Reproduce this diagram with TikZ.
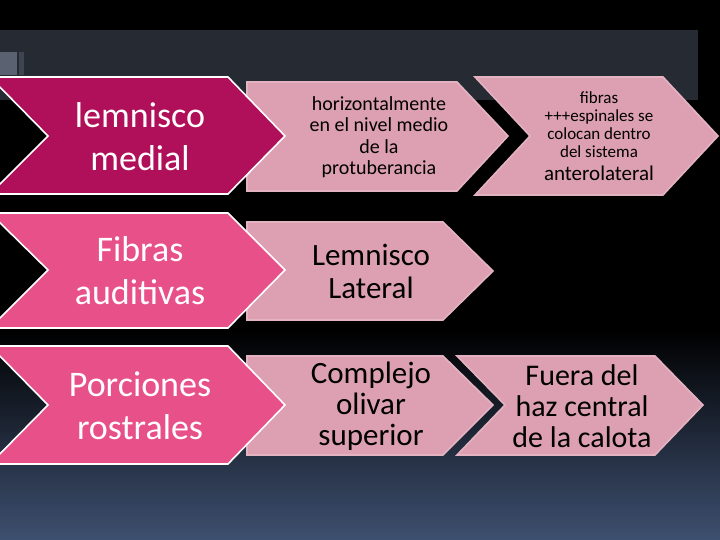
\documentclass[tikz,border=0pt]{standalone}
\usepackage{fontspec}
\setmainfont{Carlito}
\definecolor{dark}{HTML}{B0105A}
\definecolor{mid}{HTML}{E8508A}
\definecolor{light}{HTML}{DDA0B2}
\definecolor{band}{HTML}{262A33}
\definecolor{bot}{HTML}{3E5070}
\definecolor{tab}{HTML}{5A6272}
\tikzset{
 chev/.style={line width=1.6pt,line join=miter},
 tw/.style={text=white,align=center,font=\fontsize{36}{43}\selectfont},
 tb/.style={text=black,align=center}
}
\begin{document}
\begin{tikzpicture}[x=1pt,y=-1pt]
\useasboundingbox (0,0) rectangle (720,540);
\fill[black] (0,0) rectangle (720,330);
\shade[top color=black,bottom color=bot] (0,330) rectangle (720,540);
\fill[band] (0,30) rectangle (698,100);
\fill[tab] (0,52) rectangle (17,75);
\fill[tab!70!black] (19,52) rectangle (24,75);
% row 1
\draw[chev,fill=light,draw=light!80!white] (475,77) -- (663,77) -- (718,136) -- (663,195) -- (475,195) -- (530,136) -- cycle;
\draw[chev,fill=light,draw=light!80!white] (247,82) -- (457,82) -- (508,136) -- (457,191) -- (247,191) -- cycle;
\draw[chev,fill=dark,draw=white] (-10,77) -- (228,77) -- (285,136) -- (228,194) -- (-10,194) -- (48,136) -- cycle;
% row 2
\draw[chev,fill=light,draw=light!80!white] (247,222) -- (443,222) -- (493,271) -- (443,320) -- (247,320) -- cycle;
\draw[chev,fill=mid,draw=white] (-10,213) -- (228,213) -- (285,270) -- (228,328) -- (-10,328) -- (48,270) -- cycle;
% row 3
\draw[chev,fill=light,draw=light!80!white] (457,356) -- (655,356) -- (703,405) -- (655,455) -- (457,455) -- (505,405) -- cycle;
\draw[chev,fill=light,draw=light!80!white] (247,356) -- (443,356) -- (493,405) -- (443,455) -- (247,455) -- cycle;
\draw[chev,fill=mid,draw=white] (-10,346) -- (228,346) -- (285,405) -- (228,464) -- (-10,464) -- (48,405) -- cycle;
% texts
\node[tw] (a1) at (140,137) {lemnisco\\medial};
\node[tw] (a2) at (140,271) {Fibras\\auditivas};
\node[tw] (a3) at (140,406) {Porciones\\rostrales};
\node[tb,font=\fontsize{20}{21.5}\selectfont] (b1) at (379,137) {horizontalmente\\en el nivel medio\\de la\\protuberancia};
\node[tb,font=\fontsize{31}{33}\selectfont] (b2) at (371,271) {Lemnisco\\Lateral};
\node[tb,font=\fontsize{31}{31}\selectfont] (b3) at (371,406) {Complejo\\olivar\\superior};
\node[tb,font=\fontsize{17}{18}\selectfont] (c1) at (599,125) {fibras\\+++espinales se\\colocan dentro\\del sistema};
\node[tb,font=\fontsize{21}{22}\selectfont] (c1b) at (599,173) {anterolateral};
\node[tb,font=\fontsize{30}{31}\selectfont] (c3) at (582,406) {Fuera del\\haz central\\de la calota};
\end{tikzpicture}
\end{document}
